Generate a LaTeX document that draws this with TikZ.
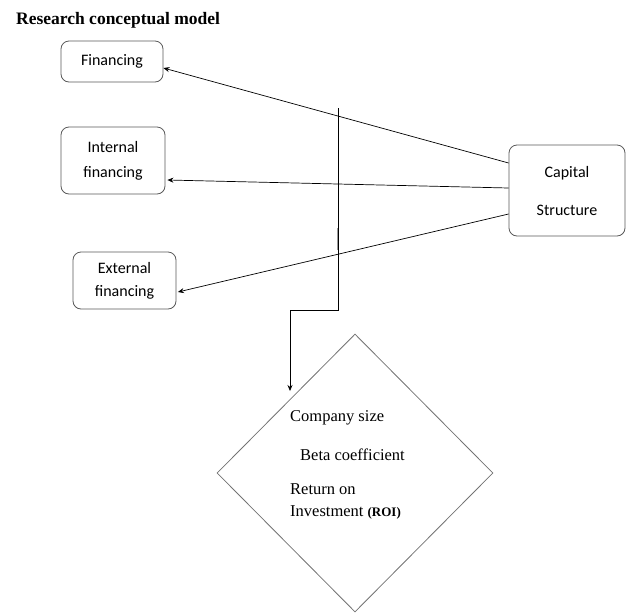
\documentclass[tikz,border=0pt]{standalone}
\usepackage{fontspec}
\setmainfont{Liberation Serif}
\newfontfamily\boxfont{Carlito}
\usetikzlibrary{shapes.geometric,arrows.meta,calc}
\begin{document}
\begin{tikzpicture}[x=1pt,y=-1pt,
  box/.style={draw=black!65, rounded corners=8pt, line width=0.8pt, align=center,
    font=\boxfont\fontsize{16}{25}\selectfont, inner sep=0pt},
  conn/.style={draw=black, line width=0.7pt, -{Stealth[length=6pt,width=5pt]}},
  dtext/.style={font=\fontsize{16.5}{19}\selectfont, anchor=west, inner sep=0pt}]
\useasboundingbox (0,0) rectangle (627,614);
\node[anchor=west, font=\bfseries\fontsize{17.5}{20}\selectfont, inner sep=0pt] (title) at (16,20) {Research conceptual model};
\node[box, minimum width=102pt, minimum height=41pt] (fin) at (112,61.5) {Financing};
\node[box, minimum width=104pt, minimum height=67pt] (int) at (113,160.5) {Internal\\financing};
\node[box, minimum width=103pt, minimum height=57pt, font=\boxfont\fontsize{16}{23}\selectfont] (ext) at (124.5,280.5) {External\\financing};
\node[box, minimum width=116pt, minimum height=91pt, font=\boxfont\fontsize{16}{38}\selectfont] (cap) at (567,190.5) {Capital\\Structure};
\node[draw=black!55, line width=0.8pt, shape=diamond, minimum width=276pt, minimum height=278pt, inner sep=0pt] (dia) at (355,473) {};
\node[dtext] (t1) at (290,418) {Company size};
\node[dtext] (t2) at (300,455) {Beta coefficient};
\node[dtext] (t3) at (290,489) {Return on};
\node[dtext] (t4) at (290,512) {Investment {\bfseries\fontsize{13}{15}\selectfont(ROI)}};
% connectors from Capital Structure
\draw[conn] ($(cap.west)+(0,-27.5)$) -- ($(fin.east)+(0,6.5)$);
\draw[conn] ($(cap.west)+(0,-2.5)$) -- ($(int.east)+(2,19.5)$);
\draw[conn] ($(cap.west)+(0,23.5)$) -- ($(ext.east)+(1.5,11.5)$);
% vertical connector to diamond
\coordinate (vtop) at (338,108);
\coordinate (vbend) at (338,310);
\coordinate (hbend) at (290,310);
\coordinate (atip) at (290,391);
\draw[line width=2.4pt, black!40] (338,228) -- (338,250);
\draw[conn] (vtop) -- (vbend) -- (hbend) -- (atip);
\end{tikzpicture}
\end{document}
